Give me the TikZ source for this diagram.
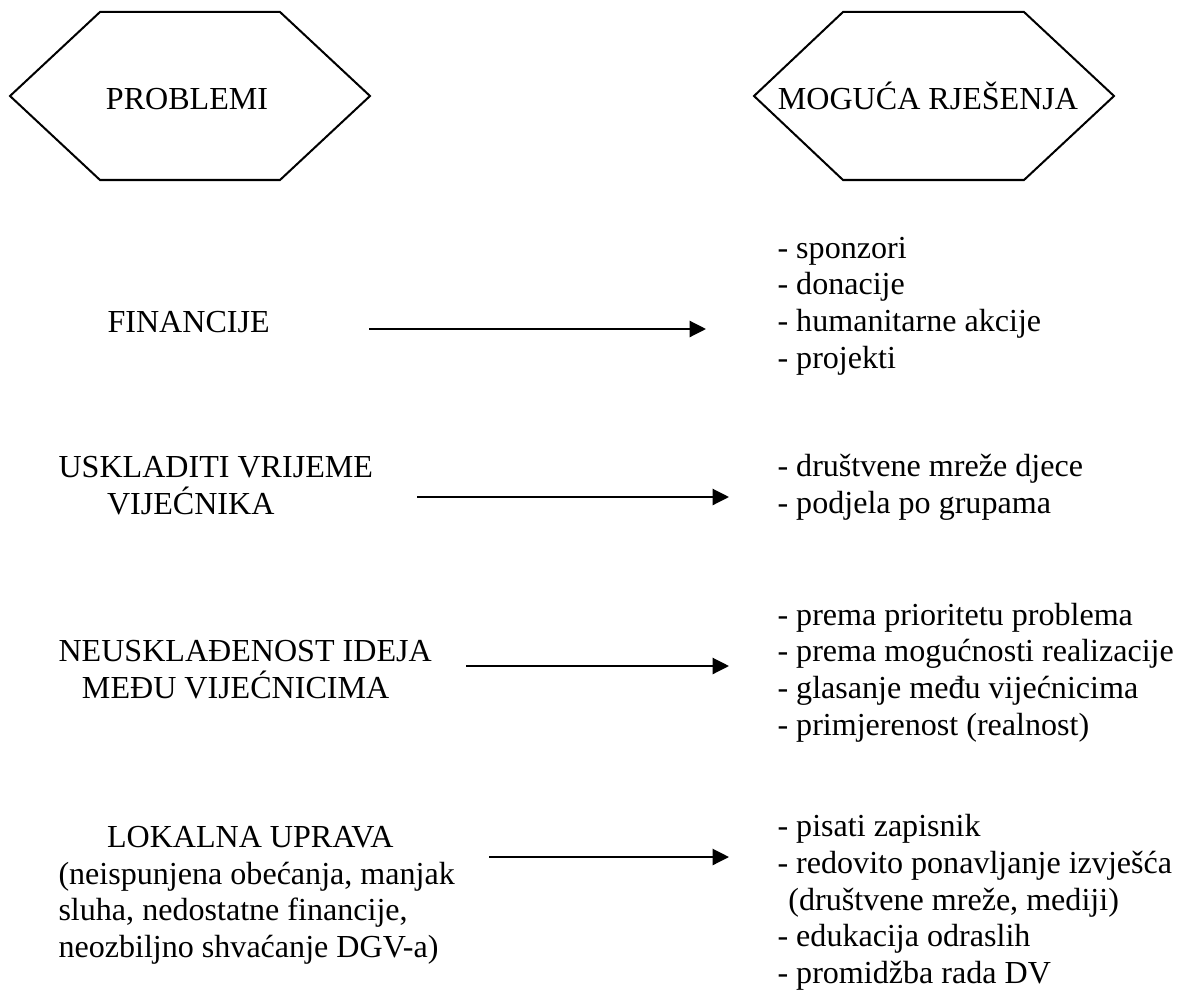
\documentclass[tikz,border=0pt]{standalone}
\usepackage{fontspec}
\setmainfont{Liberation Serif}
\usetikzlibrary{positioning,arrows.meta}

\begin{document}
\begin{tikzpicture}[
    x=0.3835pt, y=-0.3835pt,
    headname/.style={font=\fontsize{12.3}{14}\selectfont, anchor=base, inner sep=0pt},
    % multi-line nodes: base is the baseline of the last line
    probname/.style={font=\fontsize{12.3}{14}\selectfont, align=left, anchor=base west, inner sep=0pt},
    solname/.style={font=\fontsize{12.3}{14}\selectfont, align=left, anchor=base west, inner sep=0pt},
    hexline/.style={line width=0.77pt, line join=miter},
    solarrow/.style={-{Triangle[length=6.3pt,width=6.2pt]}, line width=0.77pt}
  ]
    \useasboundingbox (0,0) rectangle (1178,998);

    % headers in hexagons
    \coordinate (problemi-c) at (190,96);
    \coordinate (rjesenja-c) at (934,96);
    \draw[hexline] (problemi-c) +(-180,0) -- +(-90,-84) -- +(90,-84) -- +(180,0) -- +(90,84) -- +(-90,84) -- cycle;
    \draw[hexline] (rjesenja-c) +(-180,0) -- +(-91,-84) -- +(90,-84) -- +(180,0) -- +(90,84) -- +(-91,84) -- cycle;
    \node (problemi) [headname] at (187,110) {PROBLEMI};
    \node (rjesenja) [headname] at (928,110) {MOGUĆA RJEŠENJA};

    % problems
    \node (fin) [probname] at (107,332) {FINANCIJE};
    \node (usklad) [probname] at (58,514) {USKLADITI VRIJEME\\\hspace*{18.6pt}VIJEĆNIKA};
    \node (neuskl) [probname] at (58,698) {NEUSKLAĐENOST IDEJA\\\hspace*{9pt}MEĐU VIJEĆNICIMA};
    \node (lokal) [probname] at (58,957) {\hspace*{18.6pt}LOKALNA UPRAVA\\(neispunjena obećanja, manjak\\sluha, nedostatne financije,\\neozbiljno shvaćanje DGV-a)};

    % solutions
    \node (fin-sol) [solname] at (777,368) {- sponzori\\- donacije\\- humanitarne akcije\\- projekti};
    \node (usklad-sol) [solname] at (777,513) {- društvene mreže djece\\- podjela po grupama};
    \node (neuskl-sol) [solname] at (777,735) {- prema prioritetu problema\\- prema mogućnosti realizacije\\- glasanje među vijećnicima\\- primjerenost (realnost)};
    \node (lokal-sol) [solname] at (777,983) {- pisati zapisnik\\- redovito ponavljanje izvješća\\\hspace*{4.2pt}(društvene mreže, mediji)\\- edukacija odraslih\\- promidžba rada DV};

    \coordinate (fin-from) at (369,329);
    \coordinate (fin-to) at (706,329);
    \coordinate (usklad-from) at (417,497);
    \coordinate (usklad-to) at (729,497);
    \coordinate (neuskl-from) at (466,666);
    \coordinate (neuskl-to) at (729,666);
    \coordinate (lokal-from) at (489,857);
    \coordinate (lokal-to) at (729,857);

    \draw[solarrow] (fin-from) -- (fin-to);
    \draw[solarrow] (usklad-from) -- (usklad-to);
    \draw[solarrow] (neuskl-from) -- (neuskl-to);
    \draw[solarrow] (lokal-from) -- (lokal-to);
  \end{tikzpicture}
\end{document}
